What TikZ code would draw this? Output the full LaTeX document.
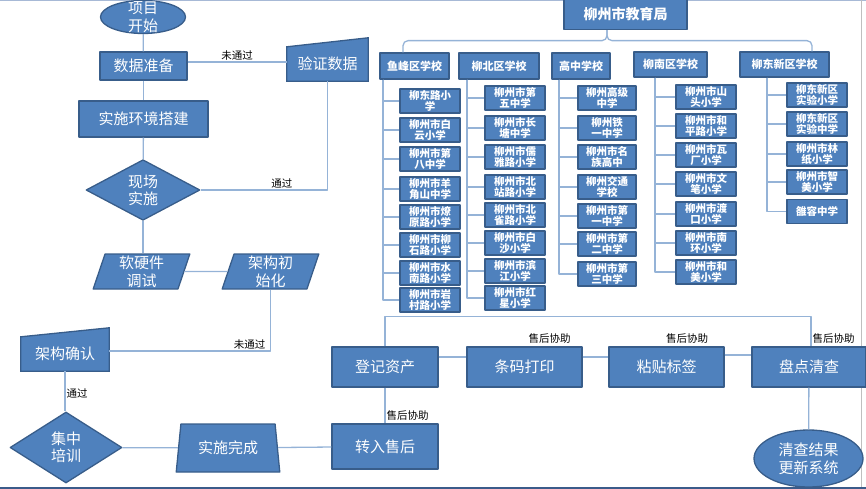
\documentclass[tikz,border=0pt]{standalone}
\usepackage{fontspec}
\setmainfont{Noto Sans CJK SC}
\usetikzlibrary{shapes.geometric, backgrounds}
\definecolor{flowblue}{HTML}{4F81BD}
\definecolor{flowedge}{HTML}{385D8A}
\definecolor{linkblue}{HTML}{95B3D7}
\definecolor{frameblue}{HTML}{A7B9D6}
\definecolor{framedark}{HTML}{3B5B8A}

\begin{document}
\begin{tikzpicture}[
    x=1pt, y=-1pt, line join=round,
    link/.style={draw=linkblue, line width=1.3pt},
    box/.style={rectangle, draw=flowedge, line width=1.3pt, fill=flowblue, text=white, align=center, inner sep=0pt, font=\fontsize{15}{18}\selectfont},
    decision/.style={diamond, draw=flowedge, line width=1.3pt, fill=flowblue, text=white, align=center, inner sep=0pt, font=\fontsize{15}{17}\selectfont},
    terminal/.style={ellipse, draw=flowedge, line width=1.3pt, fill=flowblue, text=white, align=center, inner sep=0pt, font=\fontsize{15}{18}\selectfont},
    iobox/.style={trapezium, trapezium left angle=77, trapezium right angle=103, trapezium stretches=true, draw=flowedge, line width=1.3pt, fill=flowblue, text=white, align=center, inner sep=0pt, font=\fontsize{15}{18}\selectfont},
    manual/.style={rectangle, text=white, align=center, inner sep=0pt, font=\fontsize{15}{18}\selectfont},
    manualfill/.style={draw=flowedge, line width=1.3pt, fill=flowblue},
    orghead/.style={rectangle, draw=flowedge, line width=1.3pt, fill=flowblue, text=white, inner sep=0pt, font=\bfseries\fontsize{11}{12}\selectfont},
    orgitem/.style={rectangle, draw=flowedge, line width=1.3pt, fill=flowblue, text=white, align=center, inner sep=0pt, minimum width=60, minimum height=24, font=\bfseries\fontsize{10.5}{11}\selectfont},
    lbl/.style={font=\fontsize{10.5}{12}\selectfont, inner sep=1pt}
]
\useasboundingbox (0,0) rectangle (866,489);

% Frame
\draw[frameblue, line width=1pt] (0,0.5) -- (866,0.5);
\draw[gray!50, line width=0.6pt] (861,0) -- (861,489);
\draw[framedark, line width=2pt] (0,487.5) -- (866,487.5);

% Left flow
\node[terminal, minimum width=85, minimum height=33, inner sep=-9pt] (start) at (143,17) {项目\\开始};
\node[box, minimum width=87, minimum height=28] (prep) at (143.5,66) {数据准备};
\node[manual, minimum width=81, minimum height=34] (verify) at (327.5,64) {验证数据};
\node[box, minimum width=129, minimum height=36] (env) at (143.5,119) {实施环境搭建};
\node[decision, minimum width=114, minimum height=56] (site) at (143,190) {现场\\实施};
\node[iobox, minimum width=97, minimum height=35] (debug) at (141.5,271.5) {软硬件\\调试};
\node[iobox, minimum width=97, minimum height=35] (init) at (270.5,271.5) {架构初\\始化};
\node[manual, minimum width=88, minimum height=34] (confirm) at (65,354) {架构确认};
\node[decision, minimum width=112, minimum height=71] (train) at (66,447.5) {集中\\培训};
\node[trapezium, trapezium left angle=78, trapezium right angle=78, trapezium stretches=true, draw=flowedge, line width=1.3pt, fill=flowblue, text=white, inner sep=0pt, font=\fontsize{15}{18}\selectfont, minimum width=104, minimum height=48] (done) at (228,448) {实施完成};

% Bottom flow
\node[box, minimum width=106, minimum height=45] (after) at (385,446.5) {转入售后};
\node[box, minimum width=106, minimum height=40] (reg) at (385,367) {登记资产};
\node[box, minimum width=115, minimum height=40] (barcode) at (524.5,367) {条码打印};
\node[box, minimum width=115, minimum height=40] (tag) at (666.5,367) {粘贴标签};
\node[box, minimum width=114, minimum height=40] (check) at (809,367) {盘点清查};
\node[terminal, minimum width=109, minimum height=57] (result) at (808.5,458.5) {清查结果\\更新系统};
\node[lbl] (tip1) at (549.5,339) {售后协助};
\node[lbl] (tip2) at (687,339) {售后协助};

% Manual input outlines
\begin{scope}[on background layer]
\draw[manualfill] (verify.south west) -- (verify.south east) -- ([yshift=9pt]verify.north east) -- (verify.north west) -- cycle;
\draw[manualfill] (confirm.south west) -- (confirm.south east) -- ([yshift=9pt]confirm.north east) -- (confirm.north west) -- cycle;
\end{scope}

% Org chart
\node[orghead, minimum width=123, minimum height=30, font=\bfseries\fontsize{14}{16}\selectfont] (jyj) at (625.5,14.5) {柳州市教育局};
\node[orghead, minimum width=69, minimum height=26] (yfhead) at (414.5,66) {鱼峰区学校};
\node[orghead, minimum width=80, minimum height=26] (lbhead) at (499,66) {柳北区学校};
\node[orghead, minimum width=58, minimum height=26] (gzhead) at (581,66) {高中学校};
\node[orghead, minimum width=73, minimum height=25] (lnhead) at (670.5,64.5) {柳南区学校};
\node[orghead, minimum width=89, minimum height=25] (ldhead) at (784.5,64.5) {柳东新区学校};

\foreach \y/\t [count=\i] in {101/{柳东路小\\学}, 130/{柳州市白\\云小学}, 159/{柳州市第\\八中学}, 189/{柳州市羊\\角山中学}, 217/{柳州市燎\\原路小学}, 245/{柳州市柳\\石路小学}, 273/{柳州市水\\南路小学}, 300/{柳州市岩\\村路小学}}
  \node[orgitem] (yf\i) at (430,\y) {\t};
\foreach \y/\t [count=\i] in {98/{柳州市第\\五中学}, 128/{柳州市长\\塘中学}, 157/{柳州市儒\\雅路小学}, 187/{柳州市北\\站路小学}, 215/{柳州市北\\雀路小学}, 243/{柳州市白\\沙小学}, 271/{柳州市滨\\江小学}, 298/{柳州市红\\星小学}}
  \node[orgitem] (lb\i) at (515,\y) {\t};
\foreach \y/\t [count=\i] in {98/{柳州高级\\中学}, 128/{柳州铁\\一中学}, 157/{柳州市名\\族高中}, 187/{柳州交通\\学校}, 216/{柳州市第\\一中学}, 244/{柳州市第\\二中学}, 274/{柳州市第\\三中学}}
  \node[orgitem, minimum width=58] (gz\i) at (607,\y) {\t};
\foreach \y/\t [count=\i] in {97/{柳州市山\\头小学}, 126/{柳州市和\\平路小学}, 155/{柳州市瓦\\厂小学}, 184/{柳州市文\\笔小学}, 214/{柳州市渡\\口小学}, 243/{柳州市南\\环小学}, 272/{柳州市和\\美小学}}
  \node[orgitem] (ln\i) at (706,\y) {\t};
\foreach \y/\t [count=\i] in {95/{柳东新区\\实验小学}, 124/{柳东新区\\实验中学}, 154/{柳州市林\\纸小学}, 182/{柳州市智\\美小学}, 211.5/{雒容中学}}
  \node[orgitem] (ld\i) at (817,\y) {\t};

% Org connections
\draw[link, rounded corners=5pt] ([xshift=-18.5pt]jyj.south) -- ++(0,10.5) -| ([xshift=-11.5pt]yfhead.north);
\draw[link, rounded corners=5pt] ([xshift=-18.5pt]jyj.south) -- ++(0,10.5) -| ([xshift=27.5pt]ldhead.north);
\foreach \i in {1,...,8} \draw[link] ([xshift=-31.5pt]yfhead.south) |- (yf\i.west);
\foreach \i in {1,...,8} \draw[link] ([xshift=-32pt]lbhead.south) |- (lb\i.west);
\foreach \i in {1,...,7} \draw[link] ([xshift=-22pt]gzhead.south) |- (gz\i.west);
\foreach \i in {1,...,7} \draw[link] ([xshift=-15.5pt]lnhead.south) |- (ln\i.west);
\foreach \i in {1,...,5} \draw[link] ([xshift=-17.5pt]ldhead.south) |- (ld\i.west);

% Flow connections
\draw[link] (start) -- (prep);
\draw[link] (prep) -- (env);
\draw[link] (env) -- (site);
\draw[link] ([yshift=4pt]prep.east) -- node[lbl, above] {未通过} ([yshift=4pt]prep.east -| verify.west);
\draw[link] (verify.south) |- node[lbl, pos=0.68, above] {通过} (site.east);
\draw[link] (site.south) -- (site.south |- debug.north);
\draw[link] (debug) -- (init);
\draw[link] (init.south) |- node[lbl, pos=0.565, above] {未通过} ([yshift=3pt]confirm.east);
\draw[link] (confirm) -- node[lbl, right, pos=0.55] {通过} (confirm.south |- train.north);
\draw[link] (train) -- (done);
\draw[link] (done) -- (after);
\draw[link] (reg) -- node[lbl, pos=0.78, right] {售后协助} (after);
\draw[link] (reg.north) -- ++(0,-30) -| node[lbl, pos=0.87, right] {售后协助} ([xshift=2pt]check.north);
\draw[link] ([yshift=10pt]reg.east) -- ([yshift=10pt]barcode.west);
\draw[link] ([yshift=10pt]barcode.east) -- ([yshift=10pt]tag.west);
\draw[link] ([yshift=12pt]tag.east) -- ([yshift=12pt]check.west);
\draw[link] (check) -- (result);
\end{tikzpicture}
\end{document}
